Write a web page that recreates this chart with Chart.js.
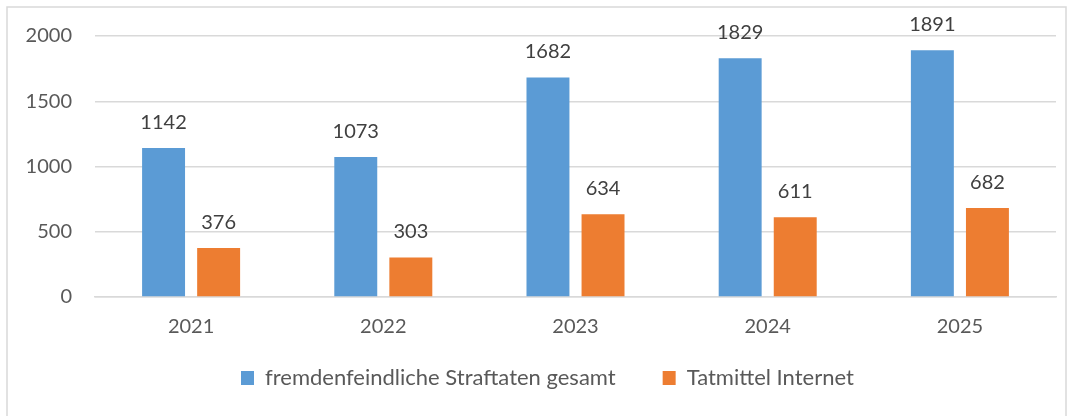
<!DOCTYPE html>
<html>
<head>
<meta charset="utf-8">
<script src="https://cdn.jsdelivr.net/npm/chart.js@4/dist/chart.umd.min.js"></script>
<style>
  html, body { margin: 0; padding: 0; background: #fff; }
  #wrap { position: relative; width: 1073px; height: 416px; }
</style>
</head>
<body>
<div id="wrap"><canvas id="chart" width="1073" height="416"></canvas></div>
<script>
// data
const years = ['2021', '2022', '2023', '2024', '2025'];
const totalCrimes = [1142, 1073, 1682, 1829, 1891];
const internetCrimes = [376, 303, 634, 611, 682];
const seriesNames = ['fremdenfeindliche Straftaten gesamt', 'Tatmittel Internet'];

const FONT = 'Lato, "Open Sans", sans-serif';

// light grey frame around the whole chart
const framePlugin = {
    id: 'frame',
    beforeDraw(chart) {
        const ctx = chart.ctx;
        ctx.save();
        ctx.fillStyle = '#fff';
        ctx.fillRect(0, 0, chart.width, chart.height);
        ctx.strokeStyle = '#d9d9d9';
        ctx.lineWidth = 1.5;
        ctx.strokeRect(7, 7, 1059, 420);
        ctx.restore();
    }
};

// move the legend to where it is in the original
const legendPlace = {
    id: 'legendPlace',
    afterLayout(chart) {
        const lg = chart.legend;
        const w = lg.right - lg.left;
        const pad = lg.options.labels.padding;
        lg.left = 241 - pad;
        lg.right = lg.left + w;
        const h = lg.bottom - lg.top;
        lg.top = 378 - pad - 11;
        lg.bottom = lg.top + h;
    }
};

// value labels above bars
const valueLabels = {
    id: 'valueLabels',
    afterDatasetsDraw(chart) {
        const ctx = chart.ctx;
        ctx.save();
        ctx.font = '20px ' + FONT;
        ctx.fillStyle = '#404040';
        ctx.textAlign = 'center';
        ctx.textBaseline = 'alphabetic';
        chart.data.datasets.forEach((ds, i) => {
            chart.getDatasetMeta(i).data.forEach((bar, j) => {
                ctx.fillText(ds.data[j], bar.x, bar.y - 19);
            });
        });
        ctx.restore();
    }
};

new Chart(document.getElementById('chart'), {
    type: 'bar',
    data: {
        labels: years,
        datasets: [
            { label: seriesNames[0], data: totalCrimes, backgroundColor: '#5b9bd5' },
            { label: seriesNames[1], data: internetCrimes, backgroundColor: '#ed7d31' }
        ]
    },
    options: {
        responsive: false,
        animation: false,
        categoryPercentage: 0.573,
        barPercentage: 0.78,
        layout: { padding: { top: 36, right: 17, bottom: -6, left: 0 } },
        scales: {
            x: {
                grid: { display: false, drawTicks: false },
                border: { color: '#d9d9d9', width: 1.5 },
                ticks: { color: '#595959', font: { family: FONT, size: 20 }, padding: 18 },
                afterFit(scale) { scale.height = 46; }
            },
            y: {
                min: 0,
                max: 2000,
                ticks: {
                    stepSize: 500,
                    color: '#595959',
                    font: { family: FONT, size: 20 },
                    padding: 23,
                    callback: v => String(v)
                },
                grid: { color: '#d9d9d9', lineWidth: 1.5, drawTicks: false },
                border: { display: false },
                afterFit(scale) { scale.width = 95; }
            }
        },
        plugins: {
            legend: {
                position: 'bottom',
                align: 'start',
                labels: {
                    color: '#595959',
                    font: { family: FONT, size: 22 },
                    boxWidth: 13,
                    boxHeight: 14,
                    padding: 47
                }
            },
            tooltip: { enabled: false }
        }
    },
    plugins: [framePlugin, legendPlace, valueLabels]
});
</script>
</body>
</html>
